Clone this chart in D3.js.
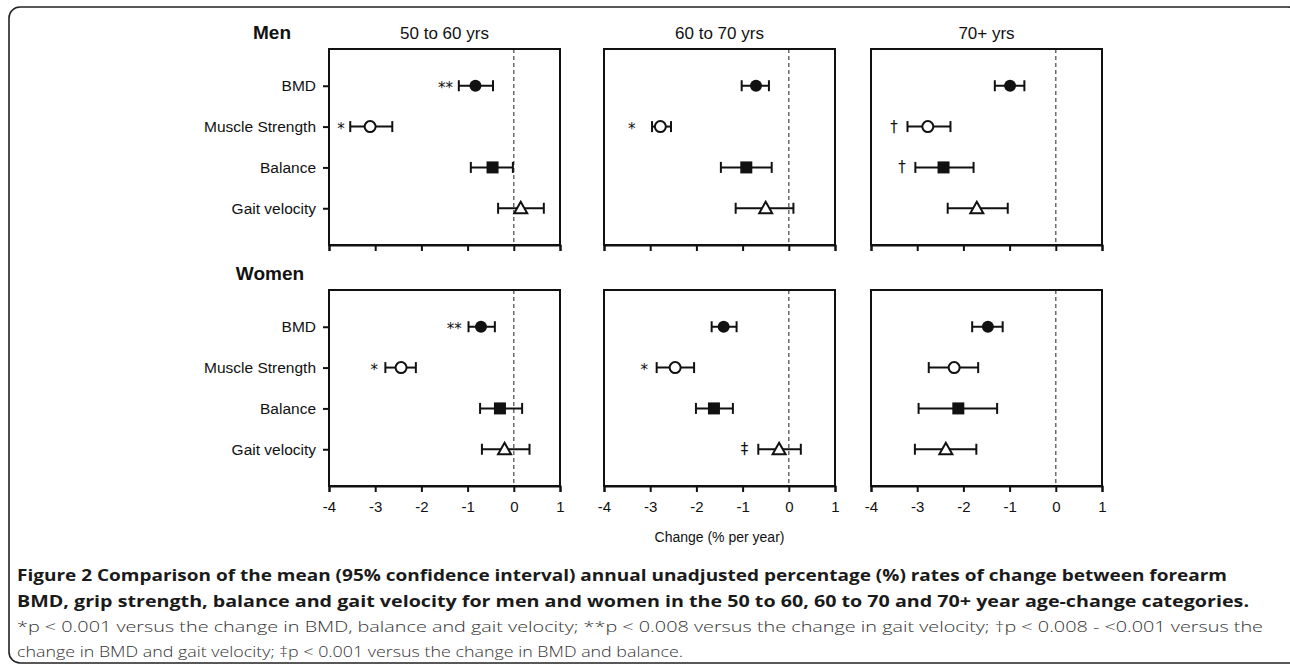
<!DOCTYPE html>
<html>
<head>
<meta charset="utf-8">
<title>Figure 2</title>
<script src="https://d3js.org/d3.v7.min.js"></script>
<style>
 body { margin: 0; background: #fff; }
 .rowlab, .ptitle, .ticklab, .xlab { font-family: "Liberation Sans", Arial, sans-serif; fill: #111; }
 .sex { font: bold 19px "Liberation Sans", Arial, sans-serif; fill: #111; }
 .cap-b { font: bold 16px "Open Sans", sans-serif; fill: #1a1a1a; }
 .cap-l { font: 300 15px "Open Sans", sans-serif; fill: #333; }
</style>
</head>
<body>
<div id="fig"></div>
<script>
// ---- data ----
var rows = ["BMD", "Muscle Strength", "Balance", "Gait velocity"];
var markers = ["dot", "ring", "square", "triangle"];
var ageGroups = ["50 to 60 yrs", "60 to 70 yrs", "70+ yrs"];
var xTicks = [-4, -3, -2, -1, 0, 1];

// mean, lower and upper 95% CI, one row per age group (BMD, Muscle, Balance, Gait)
var menMean = [[-0.83, -3.11, -0.46, 0.15], [-0.71, -2.78, -0.92, -0.50], [-0.99, -2.77, -2.43, -1.71]];
var menLow  = [[-1.19, -3.54, -0.93, -0.34], [-1.02, -2.96, -1.47, -1.15], [-1.32, -3.21, -3.04, -2.34]];
var menHigh = [[-0.45, -2.63, -0.02, 0.65], [-0.43, -2.55, -0.37, 0.10], [-0.68, -2.28, -1.78, -1.04]];

var womenMean = [[-0.71, -2.44, -0.30, -0.20], [-1.41, -2.46, -1.62, -0.21], [-1.47, -2.20, -2.11, -2.38]];
var womenLow  = [[-0.98, -2.78, -0.73, -0.69], [-1.67, -2.86, -2.01, -0.66], [-1.81, -2.75, -2.97, -3.05]];
var womenHigh = [[-0.41, -2.12, 0.18, 0.34], [-1.13, -2.05, -1.21, 0.26], [-1.15, -1.68, -1.27, -1.72]];

// significance marks and where they sit (x in % per year)
var menNote   = [["**", "*", "", ""], ["", "*", "", ""], ["", "\u2020", "\u2020", ""]];
var menNoteAt = [[-1.48, -3.74, 0, 0], [0, -3.40, 0, 0], [0, -3.50, -3.33, 0]];
var womenNote   = [["**", "*", "", ""], ["", "*", "", "\u2021"], ["", "", "", ""]];
var womenNoteAt = [[-1.29, -3.02, 0, 0], [0, -3.13, 0, -0.96], [0, 0, 0, 0]];

var captionBold = [
  "Figure 2 Comparison of the mean (95% confidence interval) annual unadjusted percentage (%) rates of change between forearm",
  "BMD, grip strength, balance and gait velocity for men and women in the 50 to 60, 60 to 70 and 70+ year age-change categories."
];
var captionLight = [
  "*p < 0.001 versus the change in BMD, balance and gait velocity; **p < 0.008 versus the change in gait velocity; \u2020p < 0.008 - <0.001 versus the",
  "change in BMD and gait velocity; \u2021p < 0.001 versus the change in BMD and balance."
];

// ---- layout ----
var W = 1290, H = 666;
var panelLeft = [329, 604, 871];
var panelW = 231;
var panelTop = [49, 290];
var panelH = 196;

var svg = d3.select("#fig").append("svg")
  .attr("width", W)
  .attr("height", H);

// outer frame
svg.append("rect")
  .attr("x", 9).attr("y", 7)
  .attr("width", 1290).attr("height", 656)
  .attr("rx", 11)
  .attr("fill", "none")
  .attr("stroke", "#222")
  .attr("stroke-width", 1.6);

var groups = [
  {name: "Men", mean: menMean, low: menLow, high: menHigh, note: menNote, noteAt: menNoteAt},
  {name: "Women", mean: womenMean, low: womenLow, high: womenHigh, note: womenNote, noteAt: womenNoteAt}
];

groups.forEach(function(g, gi) {
  var top = panelTop[gi];
  var y = d3.scalePoint().domain(rows).range([top, top + panelH]).padding(0.9);

  svg.append("text")
    .attr("class", "sex")
    .attr("x", gi == 0 ? 272 : 270)
    .attr("y", top - 10)
    .attr("text-anchor", "middle")
    .text(g.name);

  ageGroups.forEach(function(age, ai) {
    var x = d3.scaleLinear().domain([-4, 1]).range([panelLeft[ai], panelLeft[ai] + panelW]);
    var p = svg.append("g");

    if (gi == 0) {
      p.append("text")
        .attr("class", "ptitle")
        .attr("x", panelLeft[ai] + panelW / 2)
        .attr("y", top - 10)
        .attr("text-anchor", "middle")
        .style("font-size", "17px")
        .text(age);
    }

    // zero reference line
    p.append("line")
      .attr("x1", x(0)).attr("x2", x(0))
      .attr("y1", top).attr("y2", top + panelH)
      .attr("stroke", "#555")
      .attr("stroke-width", 1.3)
      .attr("stroke-dasharray", "4,3");

    // frame
    p.append("rect")
      .attr("x", panelLeft[ai]).attr("y", top)
      .attr("width", panelW).attr("height", panelH)
      .attr("fill", "none")
      .attr("stroke", "#111")
      .attr("stroke-width", 2);

    // bottom axis ticks
    var ax = p.append("g")
      .attr("transform", "translate(0," + (top + panelH) + ")")
      .call(d3.axisBottom(x).tickValues(xTicks).tickSize(6).tickPadding(5)
        .tickFormat(function(d) { return String(d); }));
    ax.select(".domain").attr("stroke-width", 2).attr("stroke", "#111");
    ax.selectAll(".tick line").attr("stroke-width", 2).attr("stroke", "#111");
    ax.selectAll(".tick text").remove();
    if (gi == 1) {
      ax.selectAll(".tick").append("text")
        .attr("class", "ticklab")
        .attr("y", 26)
        .attr("text-anchor", "middle")
        .style("font-size", "15px")
        .text(function(d) { return String(d); });
    }

    // row labels on first panel
    if (ai == 0) {
      var ay = p.append("g")
        .attr("transform", "translate(" + panelLeft[0] + ",0)")
        .call(d3.axisLeft(y).tickSize(6).tickPadding(7));
      ay.select(".domain").remove();
      ay.selectAll(".tick line").attr("stroke-width", 2).attr("stroke", "#111");
      ay.selectAll(".tick text")
        .attr("class", "rowlab")
        .style("font-size", "15.5px");
    }

    // error bars and markers
    rows.forEach(function(r, ri) {
      var cy = y(r);
      var lo = x(g.low[ai][ri]), hi = x(g.high[ai][ri]), m = x(g.mean[ai][ri]);
      var e = p.append("g").attr("stroke", "#111").attr("stroke-width", 2);
      e.append("line").attr("x1", lo).attr("x2", hi).attr("y1", cy).attr("y2", cy);
      e.append("line").attr("x1", lo).attr("x2", lo).attr("y1", cy - 5.5).attr("y2", cy + 5.5);
      e.append("line").attr("x1", hi).attr("x2", hi).attr("y1", cy - 5.5).attr("y2", cy + 5.5);

      var kind = markers[ri];
      if (kind == "dot") {
        p.append("circle").attr("cx", m).attr("cy", cy).attr("r", 6).attr("fill", "#111");
      } else if (kind == "ring") {
        p.append("circle").attr("cx", m).attr("cy", cy).attr("r", 5.5)
          .attr("fill", "#fff").attr("stroke", "#111").attr("stroke-width", 2);
      } else if (kind == "square") {
        p.append("rect").attr("x", m - 6).attr("y", cy - 6).attr("width", 12).attr("height", 12)
          .attr("fill", "#111");
      } else {
        p.append("path")
          .attr("d", "M" + m + "," + (cy - 6.5) + "L" + (m + 6.5) + "," + (cy + 5) + "L" + (m - 6.5) + "," + (cy + 5) + "Z")
          .attr("fill", "#fff").attr("stroke", "#111").attr("stroke-width", 2);
      }

      var t = g.note[ai][ri];
      if (t) {
        p.append("text")
          .attr("x", x(g.noteAt[ai][ri]))
          .attr("y", cy + (t == "*" || t == "**" ? 7 : 5))
          .attr("text-anchor", "middle")
          .style("font", "15px 'DejaVu Sans', sans-serif")
          .attr("fill", "#111")
          .text(t);
      }
    });
  });
});

// x axis title
svg.append("text")
  .attr("class", "xlab")
  .attr("x", panelLeft[1] + panelW / 2)
  .attr("y", 542)
  .attr("text-anchor", "middle")
  .style("font-size", "14px")
  .text("Change (% per year)");

// caption
var capEnds = [1227, 1249];
captionBold.forEach(function(s, i) {
  svg.append("text").attr("class", "cap-b")
    .attr("x", 17).attr("y", 581 + i * 26)
    .attr("textLength", capEnds[i] - 17)
    .attr("lengthAdjust", "spacingAndGlyphs")
    .text(s);
});
var lightEnds = [1263, 683];
captionLight.forEach(function(s, i) {
  svg.append("text").attr("class", "cap-l")
    .attr("x", 17).attr("y", 632 + i * 25)
    .attr("textLength", lightEnds[i] - 17)
    .attr("lengthAdjust", "spacingAndGlyphs")
    .text(s);
});
</script>
</body>
</html>
